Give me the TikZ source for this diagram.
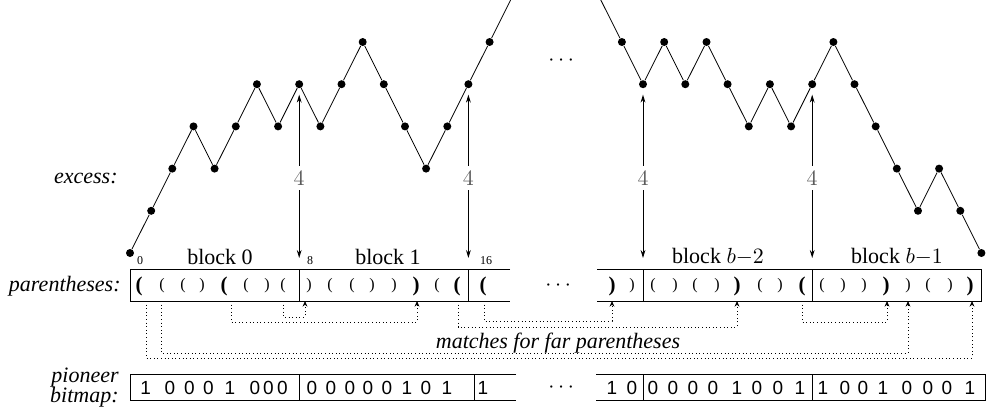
\documentclass[tikz,border=0pt]{standalone}
\usepackage{amsmath}
\usepackage{fontspec}
\setmainfont{Liberation Serif}
\newfontfamily\bitfont{Liberation Sans}
\usetikzlibrary{arrows.meta}

\tikzset{
  dot/.style={circle,fill,inner sep=0pt,minimum size=4pt},
  gap/.style={inner sep=2.5pt,text=black!65},
  dist/.style={-{Stealth[length=4pt,width=2.4pt]},line width=0.5pt},
  par/.style={font=\fontsize{8}{9}\selectfont,inner sep=0pt},
  pio/.style={font=\fontsize{10.5}{12}\selectfont\bfseries,inner sep=0pt},
  bit/.style={font=\fontsize{9.5}{10}\bitfont,inner sep=0pt},
  idx/.style={font=\fontsize{6}{7}\selectfont,inner sep=0pt},
  match/.style={line width=0.5pt,dash pattern=on 0.5pt off 1.3pt,
    -{Stealth[length=2.8pt,width=2.4pt]}},
  lbl/.style={font=\fontsize{11}{13}\selectfont\itshape,anchor=east,inner sep=0pt},
}

\begin{document}
\begin{tikzpicture}[x=0.5pt,y=-0.5pt,font=\fontsize{11}{13}\selectfont]
\useasboundingbox (0,0) rectangle (987,414);

% excess curve, left part
\node[dot] (l0) at (130,253) {};
\node[dot] (l1) at (151.2,210.8) {};
\node[dot] (l2) at (172.3,168.6) {};
\node[dot] (l3) at (193.5,126.4) {};
\node[dot] (l4) at (214.6,168.6) {};
\node[dot] (l5) at (235.8,126.4) {};
\node[dot] (l6) at (256.9,84.2) {};
\node[dot] (l7) at (278.1,126.4) {};
\node[dot] (l8) at (299.2,84.2) {};
\node[dot] (l9) at (320.4,126.4) {};
\node[dot] (l10) at (341.5,84.2) {};
\node[dot] (l11) at (362.7,42) {};
\node[dot] (l12) at (383.8,84.2) {};
\node[dot] (l13) at (405,126.4) {};
\node[dot] (l14) at (426.1,168.6) {};
\node[dot] (l15) at (447.3,126.4) {};
\node[dot] (l16) at (468.4,84.2) {};
\node[dot] (l17) at (489.6,42) {};
\coordinate (ltop) at (510.6,0);

\draw (l0) -- (l1) -- (l2) -- (l3) -- (l4) -- (l5) -- (l6) -- (l7) -- (l8)
  -- (l9) -- (l10) -- (l11) -- (l12) -- (l13) -- (l14) -- (l15) -- (l16)
  -- (l17) -- (ltop);

% excess curve, right part
\coordinate (rtop) at (600.8,0);
\node[dot] (r1) at (621.9,42) {};
\node[dot] (r2) at (643,84.2) {};
\node[dot] (r3) at (664.2,42) {};
\node[dot] (r4) at (685.3,84.2) {};
\node[dot] (r5) at (706.5,42) {};
\node[dot] (r6) at (727.6,84.2) {};
\node[dot] (r7) at (748.8,126.4) {};
\node[dot] (r8) at (769.9,84.2) {};
\node[dot] (r9) at (791.1,126.4) {};
\node[dot] (r10) at (812.2,84.2) {};
\node[dot] (r11) at (833.4,42) {};
\node[dot] (r12) at (854.5,84.2) {};
\node[dot] (r13) at (875.7,126.4) {};
\node[dot] (r14) at (896.8,168.6) {};
\node[dot] (r15) at (918,210.8) {};
\node[dot] (r16) at (939.1,168.6) {};
\node[dot] (r17) at (960.3,210.8) {};
\node[dot] (r18) at (981.4,253) {};

\draw (rtop) -- (r1) -- (r2) -- (r3) -- (r4) -- (r5) -- (r6) -- (r7) -- (r8)
  -- (r9) -- (r10) -- (r11) -- (r12) -- (r13) -- (r14) -- (r15) -- (r16)
  -- (r17) -- (r18);

\node (topdots) at (563,61) {$\cdots$};

% excess at block borders
\node[gap] (four1) at (299.2,178) {$4$};
\node[gap] (four2) at (468.4,178) {$4$};
\node[gap] (four3) at (643,178) {$4$};
\node[gap] (four4) at (812.2,178) {$4$};
\coordinate (e1) at (299.2,258);
\coordinate (e2) at (468.4,258);
\coordinate (e3) at (643,258);
\coordinate (e4) at (812.2,258);

\draw[dist,shorten >=3pt] (four1) -- (l8);
\draw[dist,shorten >=3pt] (four2) -- (l16);
\draw[dist,shorten >=3pt] (four3) -- (r2);
\draw[dist,shorten >=3pt] (four4) -- (r10);
\draw[dist] (four1) -- (e1);
\draw[dist] (four2) -- (e2);
\draw[dist] (four3) -- (e3);
\draw[dist] (four4) -- (e4);

% block titles
\node (blk0) at (220,257) {block 0};
\node (blk1) at (388,257) {block 1};
\node (blk2) at (718,257) {block $b{-}2$};
\node (blk3) at (897,257) {block $b{-}1$};
\node[idx] (i0) at (140,261) {0};
\node[idx] (i8) at (310,261) {8};
\node[idx] (i16) at (486,261) {16};

% labels
\node[lbl] (excess) at (118,178) {excess:};
\node[lbl] (parlbl) at (121,286) {parentheses:};
\node[lbl,align=right,font=\fontsize{11}{10}\selectfont\itshape] (pionlbl) at (119,388) {pioneer\\bitmap:};

% parentheses boxes
\draw (510,269) -- (130,269) -- (130,301) -- (510,301);
\draw (299.2,269) -- (299.2,301);
\draw (468.4,269) -- (468.4,301);
\draw (597,269) -- (981.4,269) -- (981.4,301) -- (597,301);
\draw (643,269) -- (643,301);
\draw (812.2,269) -- (812.2,301);

\node[pio] (pl1) at (139,286) {(};
\node[par] (pl2) at (162,286) {(};
\node[par] (pl3) at (183,286) {(};
\node[par] (pl4) at (202,286) {)};
\node[pio] (pl5) at (224,286) {(};
\node[par] (pl6) at (246,286) {(};
\node[par] (pl7) at (267,286) {)};
\node[par] (pl8) at (283,286) {(};
\node[par] (pl9) at (309,286) {)};
\node[par] (pl10) at (330,286) {(};
\node[par] (pl11) at (352,286) {(};
\node[par] (pl12) at (372,286) {)};
\node[par] (pl13) at (394,286) {)};
\node[pio] (pl14) at (416,286) {)};
\node[par] (pl15) at (437,286) {(};
\node[pio] (pl16) at (457,286) {(};
\node[pio] (pl17) at (483,286) {(};

\node (pardots) at (560,286) {$\cdots$};

\node[pio] (pr1) at (612,286) {)};
\node[par] (pr2) at (632,286) {)};
\node[par] (pr3) at (653,286) {(};
\node[par] (pr4) at (675,286) {)};
\node[par] (pr5) at (695,286) {(};
\node[par] (pr6) at (717,286) {)};
\node[pio] (pr7) at (737,286) {)};
\node[par] (pr8) at (760,286) {(};
\node[par] (pr9) at (780,286) {)};
\node[pio] (pr10) at (802,286) {(};
\node[par] (pr11) at (822,286) {(};
\node[par] (pr12) at (843,286) {)};
\node[par] (pr13) at (864,286) {)};
\node[pio] (pr14) at (886,286) {)};
\node[par] (pr15) at (908,286) {)};
\node[par] (pr16) at (928,286) {(};
\node[par] (pr17) at (950,286) {)};
\node[pio] (pr18) at (970,286) {)};

% matching pairs
\coordinate (u1) at (146,301);
\coordinate (u2) at (161,301);
\coordinate (u5) at (231,301);
\coordinate (u8) at (283,301);
\coordinate (u9) at (305,301);
\coordinate (u14) at (417,301);
\coordinate (u16) at (458,301);
\coordinate (u17) at (484,301);
\coordinate (v1) at (612,301);
\coordinate (v7) at (737,301);
\coordinate (v10) at (802,301);
\coordinate (v14) at (887,301);
\coordinate (v15) at (908,301);
\coordinate (v18) at (972,301);

\draw[match] (u1) -- ++(0,57) -| (v18);
\draw[match] (u2) -- ++(0,52) -| (v15);
\draw[match] (u5) -- ++(0,21) -| (u14);
\draw[match] (u8) -- ++(0,16) -| (u9);
\draw[match] (u16) -- ++(0,26) -| (v7);
\draw[match] (u17) -- ++(0,20) -| (v1);
\draw[match] (v10) -- ++(0,21) -| (v14);

\node[font=\fontsize{11}{13}\selectfont\itshape] (far) at (558,343) {matches for far parentheses};

% pioneer bitmap
\draw (516,374) -- (130,374) -- (130,400) -- (516,400);
\draw (299.3,374) -- (299.3,400);
\draw (474,374) -- (474,400);
\draw (596,374) -- (985,374) -- (985,400) -- (596,400);
\draw (643.3,374) -- (643.3,400);
\draw (812.7,374) -- (812.7,400);

\node[bit] (bl1) at (145.7,388) {1};
\node[bit] (bl2) at (170,388) {0};
\node[bit] (bl3) at (189.3,388) {0};
\node[bit] (bl4) at (208.3,388) {0};
\node[bit] (bl5) at (230,388) {1};
\node[bit] (bl6) at (255,388) {0};
\node[bit] (bl7) at (268.3,388) {0};
\node[bit] (bl8) at (282.3,388) {0};
\node[bit] (bl9) at (312,388) {0};
\node[bit] (bl10) at (331,388) {0};
\node[bit] (bl11) at (350,388) {0};
\node[bit] (bl12) at (368,388) {0};
\node[bit] (bl13) at (387,388) {0};
\node[bit] (bl14) at (407,388) {1};
\node[bit] (bl15) at (426,388) {0};
\node[bit] (bl16) at (447,388) {1};
\node[bit] (bl17) at (483,388) {1};

\node (bitdots) at (563,388) {$\cdots$};

\node[bit] (br1) at (612,388) {1};
\node[bit] (br2) at (632,388) {0};
\node[bit] (br3) at (653,388) {0};
\node[bit] (br4) at (673,388) {0};
\node[bit] (br5) at (693,388) {0};
\node[bit] (br6) at (713,388) {0};
\node[bit] (br7) at (737,388) {1};
\node[bit] (br8) at (757,388) {0};
\node[bit] (br9) at (778,388) {0};
\node[bit] (br10) at (800,388) {1};
\node[bit] (br11) at (823,388) {1};
\node[bit] (br12) at (845,388) {0};
\node[bit] (br13) at (863,388) {0};
\node[bit] (br14) at (883,388) {1};
\node[bit] (br15) at (907,388) {0};
\node[bit] (br16) at (928,388) {0};
\node[bit] (br17) at (947,388) {0};
\node[bit] (br18) at (970,388) {1};

\end{tikzpicture}
\end{document}
